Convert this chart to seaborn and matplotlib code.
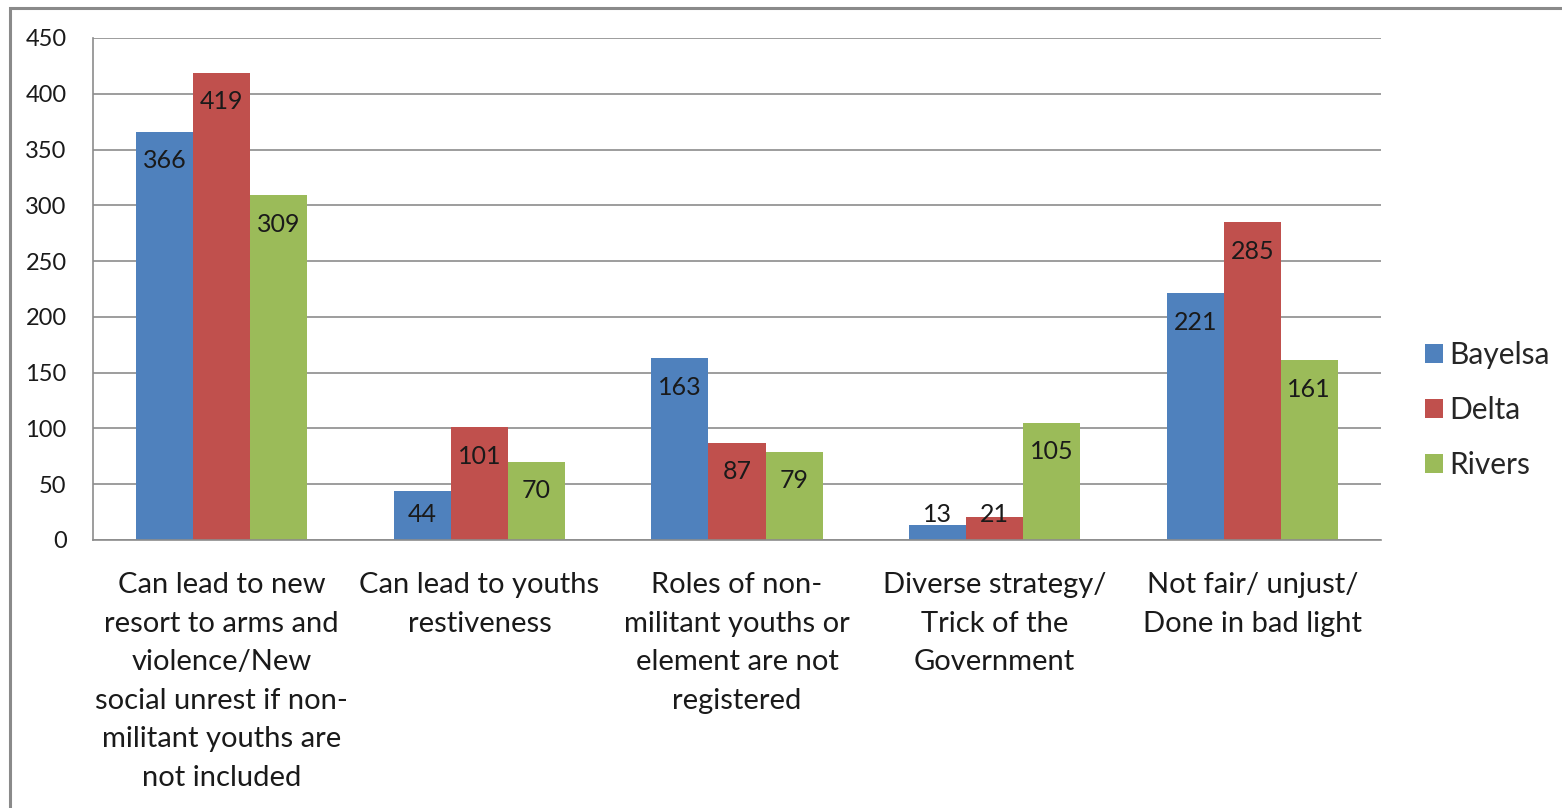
import matplotlib
matplotlib.use("Agg")
import matplotlib.pyplot as plt
from matplotlib.patches import Rectangle, Patch
import seaborn as sns
import pandas as pd

categories = [
    "Can lead to new\nresort to arms and\nviolence/New\nsocial unrest if non-\nmilitant youths are\nnot included",
    "Can lead to youths\nrestiveness",
    "Roles of non-\nmilitant youths or\nelement are not\nregistered",
    "Diverse strategy/\nTrick of the\nGovernment",
    "Not fair/ unjust/\nDone in bad light",
]
states = ["Bayelsa", "Delta", "Rivers"]
bayelsa = [366, 44, 163, 13, 221]
delta = [419, 101, 87, 21, 285]
rivers = [309, 70, 79, 105, 161]
colors = ["#4F81BD", "#C0504D", "#9BBB59"]
y_ticks = [0, 50, 100, 150, 200, 250, 300, 350, 400, 450]

rows = []
for state, vals in zip(states, [bayelsa, delta, rivers]):
    for cat, v in zip(categories, vals):
        rows.append({"category": cat, "state": state, "value": v})
df = pd.DataFrame(rows)

sns.set_style("white")
plt.rcParams["font.family"] = ["Lato", "DejaVu Sans"]

W, H = 1562, 808
fig = plt.figure(figsize=(W / 100, H / 100), dpi=100)
ax = fig.add_axes([93 / W, 1 - 540 / H, (1381 - 93) / W, (540 - 38) / H])

sns.barplot(data=df, x="category", y="value", hue="state", order=categories,
            hue_order=states, palette=colors, width=0.664, saturation=1,
            edgecolor="none", linewidth=0, legend=False, ax=ax)

ax.set_xlim(-0.5, len(categories) - 0.5)
ax.set_ylim(0, 450)
ax.set_yticks(y_ticks)
ax.set_yticklabels([str(t) for t in y_ticks], fontsize=17, color="#1a1a1a")
ax.grid(axis="y", color="#8c8c8c", linewidth=1.2)
ax.set_axisbelow(True)
ax.set_xlabel("")
ax.set_ylabel("")

grey = "#8c8c8c"
for s in ["top", "right"]:
    ax.spines[s].set_visible(False)
for s in ["left", "bottom"]:
    ax.spines[s].set_color(grey)
    ax.spines[s].set_linewidth(1.2)

ax.tick_params(axis="y", length=8, width=1.2, color=grey, pad=11, direction="out")
ax.set_xticks(range(len(categories)))
ax.set_xticklabels(categories, fontsize=21, color="#1a1a1a", linespacing=1.6,
                   ha="center", va="top")
ax.tick_params(axis="x", which="major", length=0, pad=23)
ax.set_xticks([i - 0.5 for i in range(len(categories) + 1)], minor=True)
ax.tick_params(axis="x", which="minor", length=10, width=1.2, color=grey,
               direction="out")

# value labels just inside the top of each bar
for container, vals in zip(ax.containers, [bayelsa, delta, rivers]):
    for bar, v in zip(container, vals):
        xc = bar.get_x() + bar.get_width() / 2
        ypos = max(v - 26, 23)
        ax.text(xc, ypos, str(v), ha="center", va="center", fontsize=18,
                color="#1a1a1a")

handles = [Patch(facecolor=c, edgecolor="none") for c in colors]
fig.legend(handles, states, loc="center left",
           bbox_to_anchor=(1425 / W, 1 - 410 / H), frameon=False,
           fontsize=21.5, handlelength=0.6, handleheight=0.6,
           handletextpad=0.22, labelspacing=0.9, borderaxespad=0, borderpad=0)

fig.patches.append(Rectangle((10 / W, -0.05), 1.2, 1 - 8 / H + 0.05,
                             transform=fig.transFigure, fill=False,
                             edgecolor="#8a8a8a", linewidth=2.2))

fig.savefig("out.png", dpi=100, facecolor="white")
